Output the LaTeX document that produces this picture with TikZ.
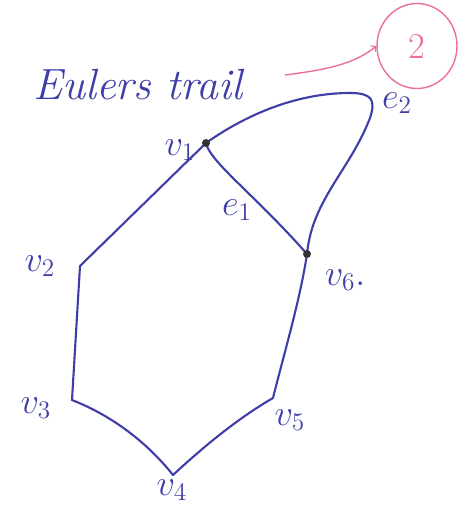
\documentclass[tikz,border=0pt]{standalone}
\usepackage{amsmath}
\usetikzlibrary{shapes.geometric}
\definecolor{ink}{RGB}{62,62,168}
\definecolor{pinkink}{RGB}{236,112,150}
\tikzset{
  edge/.style={ink, line width=1.2pt, line cap=round},
  lbl/.style={ink, font=\huge},
  dot/.style={fill=black!80, circle, inner sep=1.6pt}
}
\begin{document}
\begin{tikzpicture}[x=0.02cm, y=-0.02cm]
    \useasboundingbox (0,0) rectangle (466,507);
    \coordinate (v1) at (206,143);
    \coordinate (v2) at (80,266);
    \coordinate (v3) at (72,400);
    \coordinate (v4) at (173,475);
    \coordinate (v5) at (273,398);
    \coordinate (v6) at (307,254);
    \draw[edge] (v1)--(v2)--(v3);
    \draw[edge] (v3) .. controls (110,415) and (145,440) .. (v4);
    \draw[edge] (v4) .. controls (200,450) and (235,420) .. (v5);
    \draw[edge] (v5) .. controls (285,350) and (300,300) .. (v6);
    \draw[edge] (v1) .. controls (210,162) and (255,195) .. (v6);
    \draw[edge] (v1) .. controls (250,112) and (300,93) .. (350,93)
                     .. controls (372,93) and (376,100) .. (370,118)
                     .. controls (350,170) and (312,200) .. (v6);
    \node[dot] (d1) at (v1) {};
    \node[dot] (d6) at (v6) {};
    % labels
    \foreach \p/\pos/\txt in {v1/{(180,150)}/v_1, v2/{(40,266)}/v_2,
        v3/{(36,408)}/v_3, v4/{(172,490)}/v_4, v5/{(290,420)}/v_5,
        v6/{(345,280)}/v_6.} {
        \node[lbl] (l\p) at \pos {$\txt$};
    }
    \node[lbl] (le1) at (237,210) {$e_1$};
    \node[lbl] (le2) at (397,103) {$e_2$};
    \node[lbl, font=\Huge\itshape] (title) at (138,85) {Eulers trail};
    % margin note
    \node[draw=pinkink, ellipse, minimum width=1.6cm, minimum height=1.7cm,
          text=pinkink, font=\huge, line width=0.8pt] (num) at (417,46) {2};
    \coordinate (tail) at (285,75);
    \draw[pinkink, line width=0.8pt, ->] (tail) .. controls (325,70) and (355,64) .. (num.west);
\end{tikzpicture}
\end{document}
